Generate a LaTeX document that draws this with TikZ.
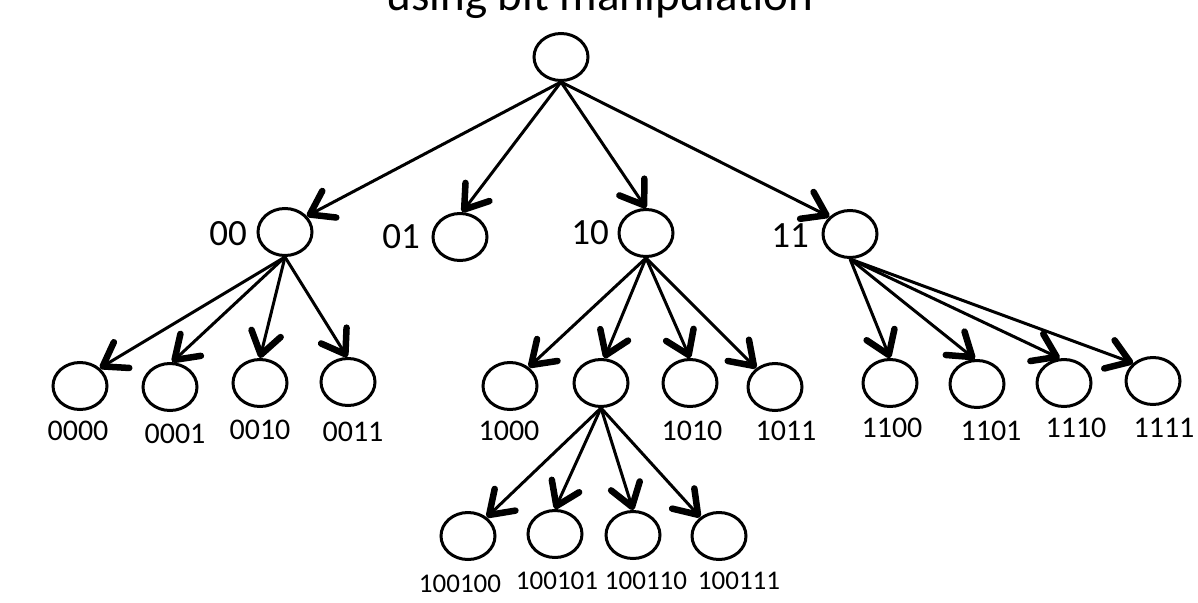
\documentclass[tikz,border=0pt]{standalone}
\usepackage{fontspec}
\setmainfont{Carlito}
\usetikzlibrary{arrows.meta,shapes.geometric}
\tikzset{
  nd/.style={ellipse, draw, line width=3pt, minimum width=54pt, minimum height=47pt, inner sep=0pt},
  ar/.style={line width=3pt, -{Straight Barb[length=22pt,width=30pt,line width=6.5pt,round]}},
  lab/.style={inner sep=0pt, anchor=center},
  labA/.style={lab, font=\fontsize{37}{42}\selectfont},
  labB/.style={lab, font=\fontsize{30}{34}\selectfont},
  labC/.style={lab, font=\fontsize{27}{32}\selectfont}
}
\begin{document}
\begin{tikzpicture}[x=1pt,y=-1pt]
\useasboundingbox (0,0) rectangle (1198,602);
% title (partly cut off, as in the reference)
\node[anchor=base, inner sep=0pt, font=\fontsize{47}{56}\selectfont] (title) at (600,11) {using bit manipulation};
% nodes
\node[nd] (root) at (561,57) {};
\node[nd] (n00) at (285,232) {};
\node[nd] (n01) at (460,237) {};
\node[nd] (n10) at (646,233) {};
\node[nd] (n11) at (850,234) {};
\node[nd] (a0000) at (80,386) {};
\node[nd] (a0001) at (170,387) {};
\node[nd] (a0010) at (260,383) {};
\node[nd] (a0011) at (348,382) {};
\node[nd] (b1000) at (510,386) {};
\node[nd] (bmid) at (601,383) {};
\node[nd] (b1010) at (690,383) {};
\node[nd] (b1011) at (775,387) {};
\node[nd] (c1100) at (890,383) {};
\node[nd] (c1101) at (977,384) {};
\node[nd] (c1110) at (1064,383) {};
\node[nd] (c1111) at (1153,381) {};
\node[nd] (d100100) at (468,536) {};
\node[nd] (d100101) at (555,534) {};
\node[nd] (d100110) at (633,535) {};
\node[nd] (d100111) at (719,536) {};
% labels
\node[labA] (l00) at (228,234) {00};
\node[labA] (l01) at (401,237) {01};
\node[labA] (l10) at (590,233) {10};
\node[labA] (l11) at (790,236) {11};
\node[labB] (l0000) at (78,431) {0000};
\node[labB] (l0001) at (175,434) {0001};
\node[labB] (l0010) at (260,430) {0010};
\node[labB] (l0011) at (353,432) {0011};
\node[labB] (l1000) at (509,431) {1000};
\node[labB] (l1010) at (692,431) {1010};
\node[labB] (l1011) at (786,431) {1011};
\node[labB] (l1100) at (892,428) {1100};
\node[labB] (l1101) at (991,431) {1101};
\node[labB] (l1110) at (1076,428) {1110};
\node[labB] (l1111) at (1164,428) {1111};
\node[labC] (l100100) at (460,584) {100100};
\node[labC] (l100101) at (557,581) {100101};
\node[labC] (l100110) at (646,581) {100110};
\node[labC] (l100111) at (739,581) {100111};
% edges
\draw[ar] (root.south) -- (n00.36);
\draw[ar] (root.south) -- (n01.85);
\draw[ar] (root.south) -- (n10.90);
\draw[ar] (root.south) -- (n11.140);
\draw[ar] (n00.south) -- (a0000.42);
\draw[ar] (n00.south) -- (a0001.85);
\draw[ar] (n00.south) -- (a0010.90);
\draw[ar] (n00.south) -- (a0011.92);
\draw[ar] (n10.south) -- (b1000.45);
\draw[ar] (n10.south) -- (bmid.82);
\draw[ar] (n10.south) -- (b1010.90);
\draw[ar] (n10.south) -- (b1011.135);
\draw[ar] (n11.south) -- (c1100.90);
\draw[ar] (n11.south) -- (c1101.95);
\draw[ar] (n11.south) -- (c1110.100);
\draw[ar] (n11.south) -- (c1111.138);
\draw[ar] (bmid.south) -- (d100100.45);
\draw[ar] (bmid.south) -- (d100101.90);
\draw[ar] (bmid.south) -- (d100110.90);
\draw[ar] (bmid.south) -- (d100111.135);
\end{tikzpicture}
\end{document}
